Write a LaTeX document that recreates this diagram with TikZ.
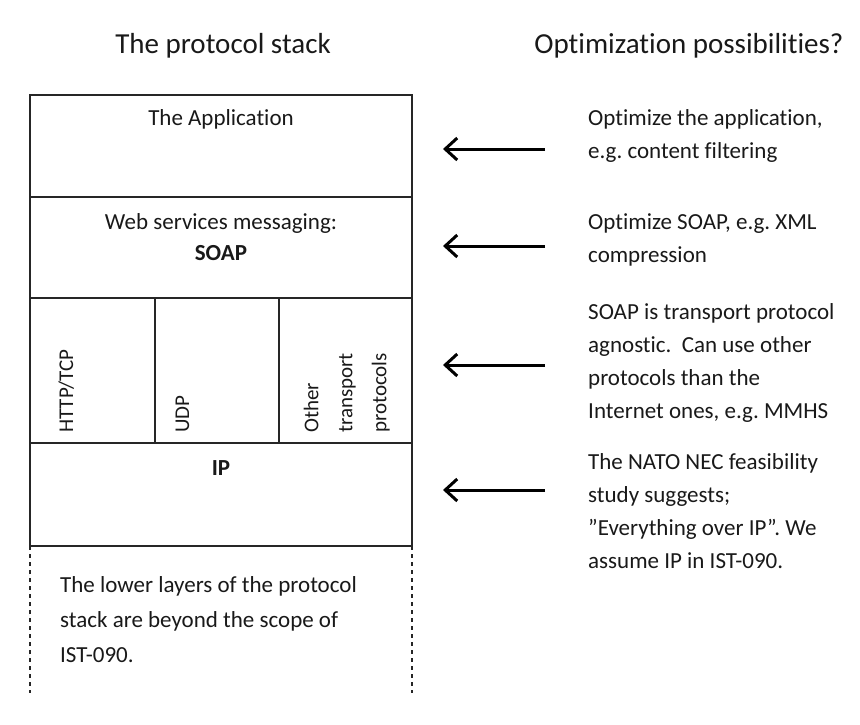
\documentclass[tikz,border=0pt]{standalone}
\usepackage{fontspec}
\setmainfont{Carlito}[Ligatures={NoCommon}]
\usetikzlibrary{arrows.meta,positioning}
\frenchspacing
\begin{document}
\begin{tikzpicture}[x=1pt,y=-1pt,
		layer/.style={rectangle, draw=black!85, line width=1.5pt, inner sep=0pt, outer sep=0pt, anchor=north west},
		txt/.style={inner sep=0pt, text=black!90, font=\fontsize{23}{33}\selectfont},
		note/.style={txt, anchor=north west, align=left},
		head/.style={inner sep=0pt, text=black!90, font=\fontsize{29}{35}\selectfont, anchor=base},
		side/.style={txt, rotate=90, font=\fontsize{21}{34}\selectfont, align=left},
		hint/.style={line width=3pt, draw=black, -{Straight Barb[length=12pt,width=22pt]}}]
			\useasboundingbox (0,0) rectangle (860,724);
			% titles
			\node[head] (stacktitle) at (223,53) {The protocol stack};
			\node[head] (opttitle) at (689,53) {Optimization possibilities?};
			% the stack
			\node[layer, minimum width=382pt, minimum height=102pt] (app) at (30,95) {};
			\node[layer, minimum width=382pt, minimum height=101pt] (msg) at (app.south west) {};
			\node[layer, minimum width=125pt, minimum height=145pt] (http) at (msg.south west) {};
			\node[layer, minimum width=124pt, minimum height=145pt] (udp) at (http.north east) {};
			\node[layer, minimum width=133pt, minimum height=145pt] (other) at (udp.north east) {};
			\node[layer, minimum width=382pt, minimum height=103pt] (ip) at (http.south west) {};
			\node[txt, anchor=base] (applbl) at (221,125) {The Application};
			\node[txt, anchor=base] (msglbl) at (221,229) {Web services messaging:};
			\node[txt, anchor=base, font=\fontsize{23}{33}\selectfont\bfseries] (soaplbl) at (221,260) {SOAP};
			\node[side, anchor=base west] (httplbl) at (73,433) {HTTP/TCP};
			\node[side, anchor=base west] (udplbl) at (189,433) {UDP};
			\node[side, anchor=south west] (otherlbl) at (390,433) {Other\\transport\\protocols};
			\node[txt, anchor=base, font=\fontsize{23}{33}\selectfont\bfseries] (iplbl) at (221,475) {IP};
			% lower layers, open at the bottom
			\coordinate (lowleft) at (30,693);
			\coordinate (lowright) at (412,693);
			\draw[line width=1.2pt, draw=black!85, dash pattern=on 4pt off 4pt] (ip.south west) -- (lowleft);
			\draw[line width=1.2pt, draw=black!85, dash pattern=on 4pt off 4pt] (ip.south east) -- (lowright);
			\node[note, font=\fontsize{23}{35}\selectfont] (lowlbl) at (60,576) {The lower layers of the protocol\\stack are beyond the scope of\\IST-090.};
			% optimization notes
			\node[note] (appnote) at (588,109) {Optimize the application,\\e.g. content filtering};
			\node[note] (soapnote) at (588,213) {Optimize SOAP, e.g. XML\\compression};
			\node[note] (transnote) at (588,303) {SOAP is transport protocol\\agnostic.\ \ Can use other\\protocols than the\\Internet ones, e.g. MMHS};
			\node[note] (ipnote) at (588,453) {The NATO NEC feasibility\\study suggests;\\”Everything over IP”. We\\assume IP in IST-090.};
			\foreach \name/\yy in {app/149, soap/246, trans/365, ip/490} {
				\coordinate (\name tail) at (545,\yy);
				\coordinate (\name head) at (443,\yy);
				\draw[hint] (\name tail) -- (\name head);
			}
			\end{tikzpicture}
\end{document}
